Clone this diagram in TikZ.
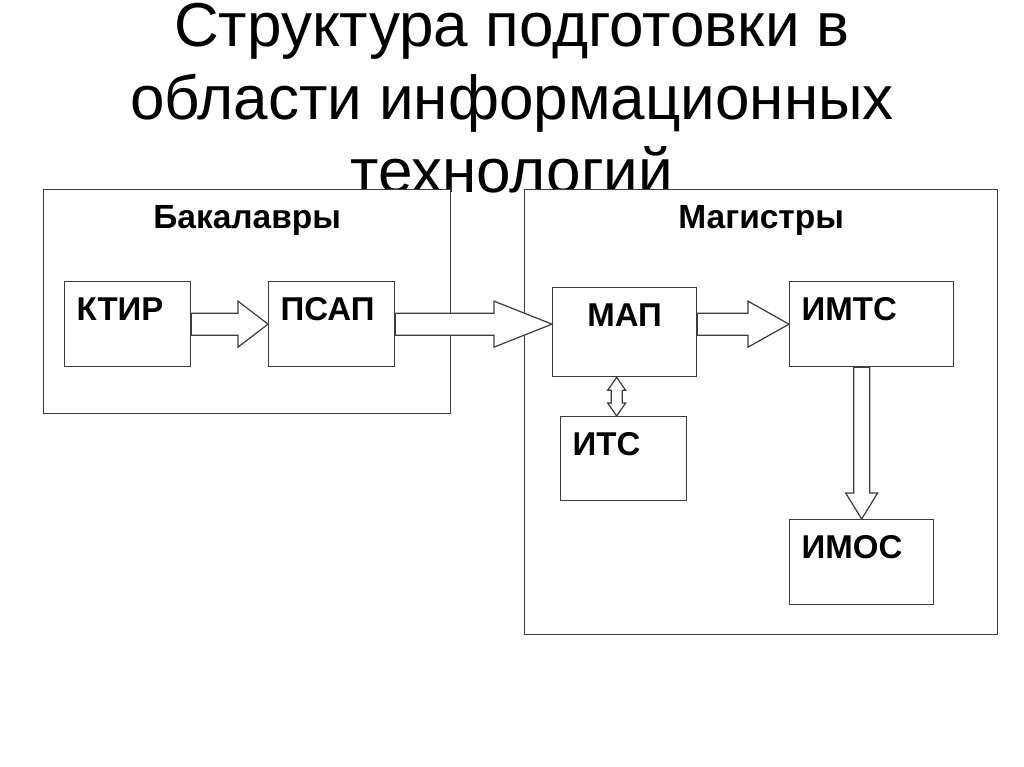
\documentclass[tikz,border=0pt]{standalone}
\usepackage{fontspec}
\setmainfont{Liberation Sans}
\usetikzlibrary{calc}

\definecolor{linegray}{HTML}{3C3C3C}
\newcommand{\titlefont}{\fontsize{62}{73}\selectfont}
\newcommand{\unitfont}{\fontsize{33}{38}\selectfont\bfseries}
\newcommand{\framefont}{\fontsize{33.5}{39}\selectfont\bfseries}

\tikzset{
	frame/.style={draw=linegray, fill=white, line width=1.3pt, anchor=north west,
		inner sep=0pt, align=center, font=\framefont, text height=39pt},
	unit/.style={draw=linegray, fill=white, line width=1.3pt, anchor=north west,
		inner xsep=12pt, inner ysep=0pt, align=left, font=\unitfont, text height=39pt},
	fat right/.style={draw=linegray, fill=white, line width=1.2pt,
		to path={($(\tikztostart)+(0,11)$) -- ($(\tikztotarget)+(-#1,11)$)
			-- ($(\tikztotarget)+(-#1,23)$) -- (\tikztotarget)
			-- ($(\tikztotarget)+(-#1,-23)$) -- ($(\tikztotarget)+(-#1,-11)$)
			-- ($(\tikztostart)+(0,-11)$) -- cycle}},
	fat down/.style={draw=linegray, fill=white, line width=1.2pt,
		to path={($(\tikztostart)+(-8,0)$) -- ($(\tikztotarget)+(-8,-26)$)
			-- ($(\tikztotarget)+(-16,-26)$) -- (\tikztotarget)
			-- ($(\tikztotarget)+(16,-26)$) -- ($(\tikztotarget)+(8,-26)$)
			-- ($(\tikztostart)+(8,0)$) -- cycle}},
	fat updown/.style={draw=linegray, fill=white, line width=1.2pt,
		to path={(\tikztostart) -- ($(\tikztostart)+(9,13)$) -- ($(\tikztostart)+(5.5,13)$)
			-- ($(\tikztotarget)+(5.5,-13)$) -- ($(\tikztotarget)+(9,-13)$) -- (\tikztotarget)
			-- ($(\tikztotarget)+(-9,-13)$) -- ($(\tikztotarget)+(-5.5,-13)$)
			-- ($(\tikztostart)+(-5.5,13)$) -- ($(\tikztostart)+(-9,13)$) -- cycle}}
}

\begin{document}
\begin{tikzpicture}[x=1pt, y=-1pt]
	\useasboundingbox[fill=white] (0,0) rectangle (1024,767);
	% title, partly hidden by the frames
	\node[anchor=north, align=center, font=\titlefont, inner sep=0pt] (title) at (512,3)
		{Структура подготовки в\\области информационных\\технологий};
	% frames
	\node[frame, text width=407pt, text depth=185pt] (bach) at (43,189) {Бакалавры};
	\node[frame, text width=473pt, text depth=406pt] (mast) at (524,189) {Магистры};
	% units
	\node[unit, text width=102pt, text depth=46pt] (ktir) at (64,281) {КТИР};
	\node[unit, text width=102pt, text depth=46pt] (psap) at (268,281) {ПСАП};
	\node[unit, text width=120pt, text depth=50pt, align=center] (map) at (552,287) {МАП};
	\node[unit, text width=140pt, text depth=46pt] (imts) at (789,281) {ИМТС};
	\node[unit, text width=102pt, text depth=45pt] (its) at (560,416) {ИТС};
	\node[unit, text width=120pt, text depth=46pt] (imos) at (789,519) {ИМОС};
	% block arrows
	\draw[fat right=30] (ktir.east) to (psap.west);
	\draw[fat right=58] (psap.east) to (psap.east -| map.west);
	\draw[fat right=41] (map.east |- imts.west) to (imts.west);
	\draw[fat down] (imts.south -| imos.north) to (imos.north);
	\coordinate (mapfoot) at ([xshift=-8pt]map.south);
	\draw[fat updown] (mapfoot) to (mapfoot |- its.north);
\end{tikzpicture}
\end{document}
